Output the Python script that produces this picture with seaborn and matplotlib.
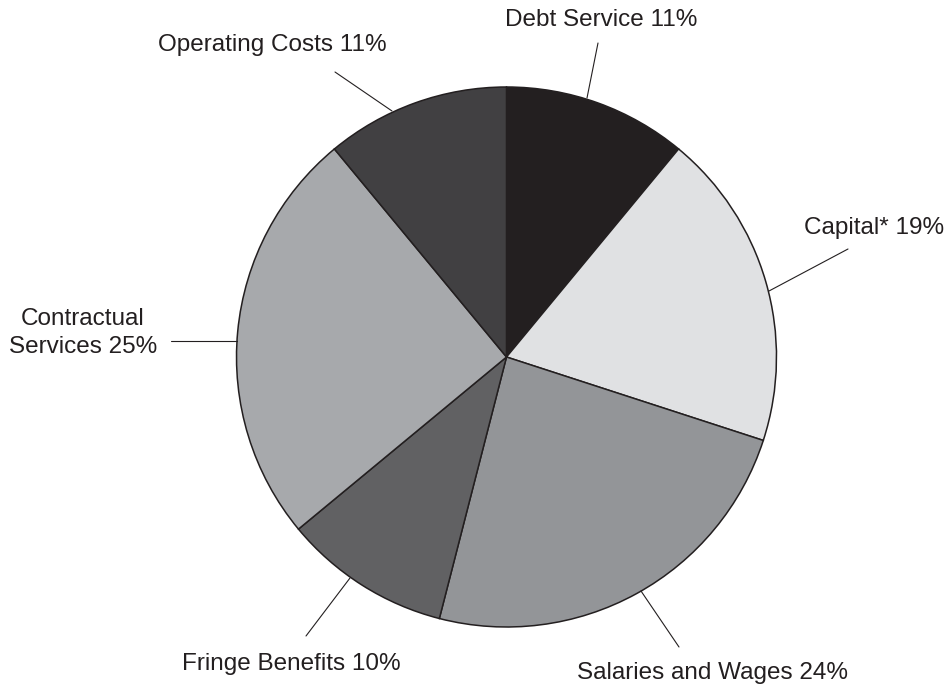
import matplotlib
matplotlib.use("Agg")
import matplotlib.pyplot as plt
import seaborn as sns

sns.set_theme(style="white")
plt.rcParams['font.family'] = ['Liberation Sans', 'DejaVu Sans']

# Data
categories = ["Debt Service", "Capital*", "Salaries and Wages", "Fringe Benefits",
              "Contractual\nServices", "Operating Costs"]
shares = [11, 19, 24, 10, 25, 11]
colors = ["#231f20", "#e0e1e3", "#939598", "#616163", "#a7a9ac", "#414042"]

W, H = 948, 688
fig = plt.figure(figsize=(W / 100, H / 100), dpi=100)
ax = fig.add_axes([0, 0, 1, 1])

def px(x, y):
    return (x, H - y)

ax.pie(shares, colors=colors, startangle=90, counterclock=False,
       center=px(506.5, 357), radius=270, frame=True,
       wedgeprops=dict(edgecolor="#231f20", linewidth=1.1))
ax.set_xlim(0, W)
ax.set_ylim(0, H)
ax.set_aspect("equal")
ax.axis("off")

labels = [f"{c} {s}%" for c, s in zip(categories, shares)]

# layout: (text position, leader start (on pie), leader end)
layout = [
    (px(601, 20), px(587, 98), px(598, 43)),
    (px(874, 228), px(769, 291), px(848, 249)),
    (px(713, 673), px(641, 591), px(679, 647)),
    (px(291, 664), px(350, 578), px(306, 636)),
    (px(83, 333), px(237, 341), px(171, 341)),
    (px(272, 45), px(392, 111), px(335, 72)),
]

for lab, (tpos, p0, p1) in zip(labels, layout):
    ax.plot([p0[0], p1[0]], [p0[1], p1[1]], color="#231f20", lw=0.8)
    ax.text(tpos[0], tpos[1], lab, ha="center", va="center", fontsize=17.5,
            color="#231f20", linespacing=1.4)

fig.savefig("out.png", dpi=100, facecolor="white")
